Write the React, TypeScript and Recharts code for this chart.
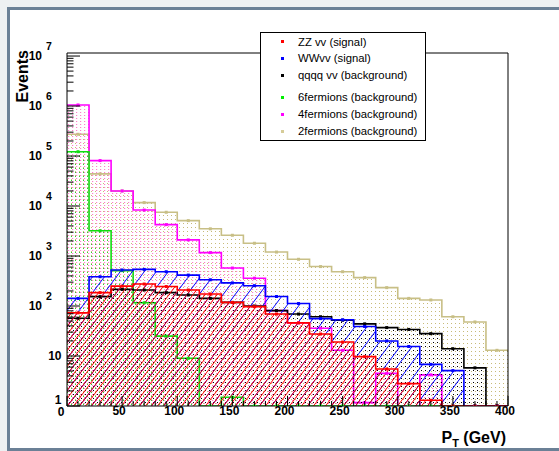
import React from 'react';
import { ComposedChart, Area, XAxis, YAxis, ReferenceArea } from 'recharts';

// ---- data (bin lower edges in GeV, bin width 20) ----
const binStarts = [0, 20, 40, 60, 80, 100, 120, 140, 160, 180, 200, 220, 240, 260, 280, 300, 320, 340, 360, 380];
const BIN_WIDTH = 20;

const zzSignal = [73, 185, 250, 275, 245, 209, 174, 118, 97, 69, 46, 27.5, 19, 9.7, 5.5, 2.8, 1.3, 0, 0, 0];
const wwSignal = [142, 385, 525, 540, 485, 415, 335, 290, 255, 155, 112, 56, 53, 39, 20, 15.5, 6.8, 5.1, 0, 0];
const qqqqBkg = [57, 154, 215, 209, 185, 166, 142, 118, 100, 81, 69, 61, 52, 44, 37, 34, 28, 14, 5.8, 0];
const sixFermions = [122000, 3200, 510, 116, 25, 9, 0, 1.5, 0, 0, 0, 0, 0, 0, 0, 0, 0, 0, 0, 0];
const fourFermions = [1050000, 81000, 20000, 8300, 4250, 2100, 1170, 575, 360, 81, 46, 36, 13, 1.17, 4.5, 0, 4.2, 0, 0, 0];
const twoFermions = [272000, 44000, 20000, 11700, 7500, 5100, 3500, 2600, 1800, 1200, 860, 615, 485, 370, 233, 142, 132, 61, 48, 13];

const xTicks = [0, 10, 20, 30, 40, 50, 60, 70, 80, 90, 100, 110, 120, 130, 140, 150, 160, 170, 180, 190, 200, 210, 220, 230, 240, 250, 260, 270, 280, 290, 300, 310, 320, 330, 340, 350, 360, 370, 380, 390, 400];
const yMajorTicks = [1, 10, 100, 1000, 10000, 100000, 1000000, 10000000];
const yMinorMultipliers = [2, 3, 4, 5, 6, 7, 8, 9];
const Y_MIN = 1;
const Y_MAX = 1.15e7;

type Series = { key: string; name: string; color: string; marker: string; fill: string; values: number[] };

// legend order
const series: Series[] = [
  { key: 'zz', name: 'ZZ vv (signal)', color: '#ff0000', marker: '#ff0000', fill: 'url(#hatchZZ)', values: zzSignal },
  { key: 'ww', name: 'WWvv (signal)', color: '#0000ff', marker: '#0000ff', fill: 'url(#hatchWW)', values: wwSignal },
  { key: 'qqqq', name: 'qqqq vv (background)', color: '#000000', marker: '#000000', fill: 'url(#dotsBlack)', values: qqqqBkg },
  { key: 'f6', name: '6fermions (background)', color: '#11dd11', marker: '#00ee00', fill: 'url(#dotsGreen)', values: sixFermions },
  { key: 'f4', name: '4fermions (background)', color: '#ff00ff', marker: '#ff00ff', fill: 'url(#dotsPink)', values: fourFermions },
  { key: 'f2', name: '2fermions (background)', color: '#c8bf86', marker: '#d6cc98', fill: 'url(#dotsTan)', values: twoFermions },
];

// build step table: a point at each bin edge and bin centre, plus closing edge
const chartData: any[] = [];
binStarts.forEach((start, i) => {
  [0, BIN_WIDTH / 2].forEach((off) => {
    const row: any = { x: start + off, center: off > 0 };
    series.forEach((s) => { row[s.key] = Math.max(s.values[i], Y_MIN); });
    chartData.push(row);
  });
});
{
  const last = binStarts.length - 1;
  const row: any = { x: binStarts[last] + BIN_WIDTH, center: false };
  series.forEach((s) => { row[s.key] = Math.max(s.values[last], Y_MIN); });
  chartData.push(row);
}

const yTicks: number[] = [];
yMajorTicks.forEach((m) => {
  yTicks.push(m);
  yMinorMultipliers.forEach((k) => { if (m * k < Y_MAX && m < 1e7) yTicks.push(m * k); });
});

const FONT = '"Liberation Sans", Arial, Helvetica, sans-serif';

const YTick = (props: any) => {
  const { x, y, payload } = props;
  const v = payload.value as number;
  const exp = Math.round(Math.log10(v));
  const major = Math.abs(v - Math.pow(10, exp)) < 1e-6 * v;
  const len = major ? 13 : 6.5;
  return (
    <g>
      <line x1={x} y1={y} x2={x + len} y2={y} stroke="#000" strokeWidth={1} />
      {major && exp <= 1 && (
        <text x={x - 5.5} y={exp === 0 ? y - 6 : y} dy="0.35em" textAnchor="end" fontFamily={FONT} fontWeight="bold" fontSize={12} fill="#000">
          {exp === 0 ? '1' : '10'}
        </text>
      )}
      {major && exp > 1 && (
        <g>
          <text x={x - 25} y={y} dy="0.35em" textAnchor="end" fontFamily={FONT} fontWeight="bold" fontSize={12} fill="#000">10</text>
          <text x={x - 21} y={y - 10} dy="0.35em" textAnchor="start" fontFamily={FONT} fontWeight="bold" fontSize={10.5} fill="#000">{exp}</text>
        </g>
      )}
    </g>
  );
};

const XTick = (props: any) => {
  const { x, y, payload } = props;
  const v = payload.value as number;
  const major = v % 50 === 0;
  const len = major ? 10 : 5;
  return (
    <g>
      <line x1={x} y1={y} x2={x} y2={y - len} stroke="#000" strokeWidth={1} />
      {major && (
        <text x={x + (v === 0 ? -6 : -3)} y={y + (v === 0 ? 6 : 5)} dy="0.35em" textAnchor="middle" fontFamily={FONT} fontWeight="bold" fontSize={12} fill="#000">
          {v}
        </text>
      )}
    </g>
  );
};

const makeDot = (color: string) => (p: any) => {
  const { cx, cy, payload, index } = p;
  if (!payload || !payload.center || cx == null || cy == null) return <g key={index} />;
  return <rect key={index} x={cx - 1.5} y={cy - 1.5} width={3} height={3} fill={color} />;
};

const drawOrder = [...series].reverse();

export default function App() {
  return (
    <div style={{ position: 'absolute', left: 0, top: 0, width: 559, height: 451, overflow: 'hidden', background: '#eef0f2' }}>
      <div style={{ position: 'absolute', left: 7, top: 7, width: 700, height: 444, boxSizing: 'border-box', border: '3px solid #6b8096', background: '#ffffff' }} />
      <svg width={0} height={0} style={{ position: 'absolute', left: 0, top: 0 }}>
        <defs>
          <pattern id="hatchZZ" patternUnits="userSpaceOnUse" width={6} height={8}>
            <path d="M0,8 L6,0 M-1,1.333 L1,-1.333 M5,9.333 L7,6.667" stroke="#ff0000" strokeWidth={1} />
          </pattern>
          <pattern id="hatchWW" patternUnits="userSpaceOnUse" width={12} height={16}>
            <path d="M0,16 L12,0 M-1,1.333 L1,-1.333 M11,17.333 L13,14.667" stroke="#0000ff" strokeWidth={1} />
          </pattern>
          <pattern id="dotsBlack" patternUnits="userSpaceOnUse" width={4} height={4}>
            <rect x={1} y={2} width={1} height={1} fill="#000000" />
          </pattern>
          <pattern id="dotsGreen" patternUnits="userSpaceOnUse" width={4} height={4}>
            <rect x={3} y={0} width={1} height={1} fill="#33cc33" />
          </pattern>
          <pattern id="dotsPink" patternUnits="userSpaceOnUse" width={4} height={3}>
            <rect x={0} y={1} width={1.2} height={1} fill="#ff80cc" />
          </pattern>
          <pattern id="dotsTan" patternUnits="userSpaceOnUse" width={4} height={4}>
            <rect x={3} y={3} width={1} height={1} fill="#c8bb78" />
          </pattern>
        </defs>
      </svg>
      <div style={{ position: 'absolute', left: 0, top: 0 }}>
        <ComposedChart width={559} height={451} data={chartData} margin={{ top: 53, right: 51, bottom: 25, left: 0 }}>
          <XAxis dataKey="x" type="number" domain={[0, 400]} ticks={xTicks} interval={0} tickSize={0} tickMargin={0}
            axisLine={false} tickLine={false} height={20} tick={XTick} allowDataOverflow />
          <YAxis type="number" scale="log" domain={[Y_MIN, Y_MAX]} ticks={yTicks} interval={0} tickSize={0} tickMargin={0}
            axisLine={false} tickLine={false} width={67} tick={YTick} allowDataOverflow />
          {drawOrder.map((s) => (
            <Area key={s.key} dataKey={s.key} name={s.name} type="stepAfter" baseValue={Y_MIN}
              stroke={s.color} strokeWidth={1.6} fill={s.fill} fillOpacity={1}
              dot={makeDot(s.color)} activeDot={false} isAnimationActive={false} />
          ))}
          <ReferenceArea x1={0} x2={400} y1={Y_MIN} y2={Y_MAX} fill="none" fillOpacity={0} stroke="#000" strokeWidth={1} />
        </ComposedChart>
      </div>
      <svg width={559} height={451} style={{ position: 'absolute', left: 0, top: 0, pointerEvents: 'none' }}>
        <text transform="translate(28,50) rotate(-90)" textAnchor="end" fontFamily={FONT} fontWeight="bold" fontSize={16} fill="#000">Events</text>
        <text x={506} y={443} textAnchor="end" fontFamily={FONT} fontWeight="bold" fontSize={16} fill="#000">
          P<tspan fontSize={11} dy={4}>T</tspan><tspan dy={-4}> (GeV)</tspan>
        </text>
      </svg>
      <div style={{ position: 'absolute', left: 260, top: 32, width: 166, height: 109, boxSizing: 'border-box', border: '1px solid #000', background: '#fff', fontFamily: FONT, fontSize: 11.3, color: '#000' }}>
        {series.map((s, i) => {
          const rowY = [8.7, 25.3, 42, 64.3, 81.3, 98][i];
          return (
            <div key={s.key}>
              <div style={{ position: 'absolute', left: 19.5, top: rowY - 1.5, width: 3, height: 3, background: s.marker }} />
              <div style={{ position: 'absolute', left: 37, top: rowY - 7, height: 14, lineHeight: '14px', whiteSpace: 'nowrap' }}>{s.name}</div>
            </div>
          );
        })}
      </div>
    </div>
  );
}
